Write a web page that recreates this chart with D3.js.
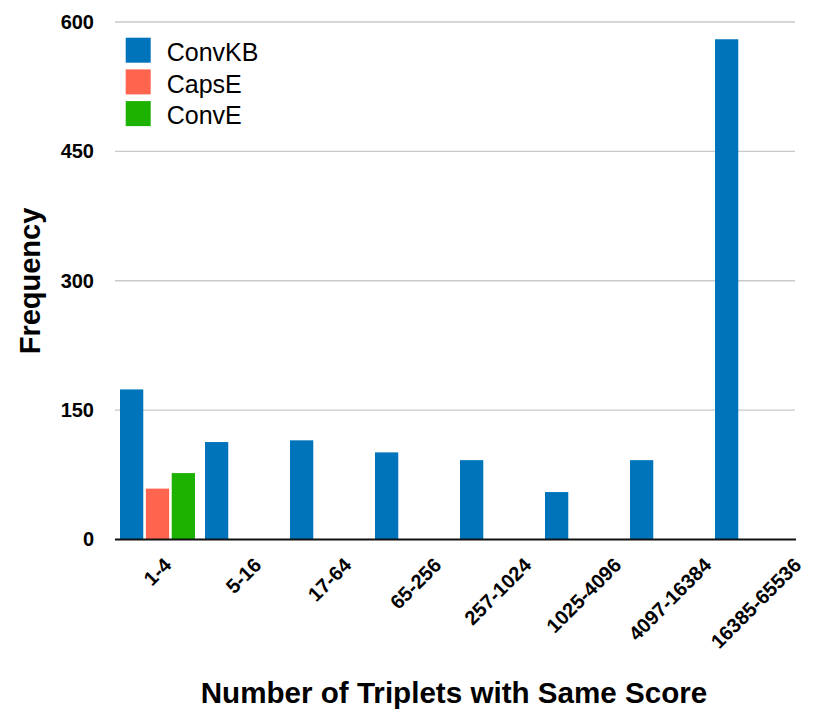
<!DOCTYPE html>
<html>
<head>
<meta charset="utf-8">
<script src="https://cdn.jsdelivr.net/npm/d3@7"></script>
<style>
  html, body { margin: 0; padding: 0; background: #fff; }
  svg { display: block; font-family: "Liberation Sans", Arial, Helvetica, sans-serif; }
</style>
</head>
<body>
<svg id="chart" width="831" height="716"></svg>
<script>
const categories = ["1-4", "5-16", "17-64", "65-256", "257-1024", "1025-4096", "4097-16384", "16385-65536"];
const seriesNames = ["ConvKB", "CapsE", "ConvE"];
const convKB = [174, 113, 115, 101, 92, 55, 92, 580];
const capsE  = [59, null, null, null, null, null, null, null];
const convE  = [77, null, null, null, null, null, null, null];
const colors = ["#0074BA", "#FF644E", "#1DB100"];
const yTicks = [0, 150, 300, 450, 600];

const seriesValues = [convKB, capsE, convE];

const svg = d3.select("#chart");

const x0 = d3.scaleBand().domain(categories).range([115, 795]).padding(0);
const x1 = d3.scaleBand().domain(seriesNames).range([5, 80]).paddingInner(0.1);
const xLabel = d3.scalePoint().domain(categories).range([172, 802]);
const y = d3.scaleLinear().domain([0, 600]).range([539.5, 22]);
const color = d3.scaleOrdinal().domain(seriesNames).range(colors);

// grid lines
svg.append("g")
  .selectAll("line")
  .data(yTicks.filter(t => t !== 0))
  .join("line")
  .attr("x1", 115).attr("x2", 795)
  .attr("y1", d => y(d)).attr("y2", d => y(d))
  .attr("stroke", "#c9c9c9").attr("stroke-width", 1.3);

// y axis labels
const yAxis = svg.append("g")
  .attr("transform", "translate(94,0)")
  .call(d3.axisLeft(y).tickValues(yTicks).tickSize(0).tickPadding(0));
yAxis.select(".domain").remove();
yAxis.selectAll("text")
  .attr("font-family", "'Liberation Sans', Arial, sans-serif")
  .attr("font-size", 20).attr("font-weight", "bold").attr("fill", "#000");

// bars
const rows = [];
categories.forEach((c, i) => {
  seriesNames.forEach((s, j) => {
    const v = seriesValues[j][i];
    if (v !== null && v !== undefined) rows.push({ c, s, v });
  });
});
svg.append("g")
  .selectAll("rect")
  .data(rows)
  .join("rect")
  .attr("x", d => x0(d.c) + x1(d.s))
  .attr("width", x1.bandwidth())
  .attr("y", d => y(d.v))
  .attr("height", d => y(0) - y(d.v))
  .attr("fill", d => color(d.s));

// baseline
svg.append("line")
  .attr("x1", 115).attr("x2", 796)
  .attr("y1", y(0)).attr("y2", y(0))
  .attr("stroke", "#111").attr("stroke-width", 2);

// x axis labels
const xAxis = svg.append("g")
  .attr("transform", `translate(0,${y(0)})`)
  .call(d3.axisBottom(xLabel).tickSize(0));
xAxis.select(".domain").remove();
xAxis.selectAll("text")
  .attr("x", 0).attr("y", 0).attr("dy", 0)
  .attr("transform", "translate(0,27) rotate(-45)")
  .attr("text-anchor", "end")
  .attr("font-family", "'Liberation Sans', Arial, sans-serif")
  .attr("font-size", 20).attr("font-weight", "bold").attr("fill", "#000");

// axis titles
svg.append("text")
  .attr("x", 454).attr("y", 703)
  .attr("text-anchor", "middle")
  .attr("font-size", 29.6).attr("font-weight", "bold")
  .text("Number of Triplets with Same Score");

svg.append("text")
  .attr("transform", "translate(40,281) rotate(-90)")
  .attr("text-anchor", "middle")
  .attr("font-size", 29).attr("font-weight", "bold")
  .text("Frequency");

// legend
const legend = svg.append("g");
seriesNames.forEach((s, i) => {
  const top = 37.7 + i * 31.7;
  legend.append("rect")
    .attr("x", 125.7).attr("y", top)
    .attr("width", 25).attr("height", 25)
    .attr("fill", color(s));
  legend.append("text")
    .attr("x", 166.7).attr("y", top + 23.3)
    .attr("font-size", 25)
    .attr("fill", "#000")
    .text(s);
});
</script>
</body>
</html>
